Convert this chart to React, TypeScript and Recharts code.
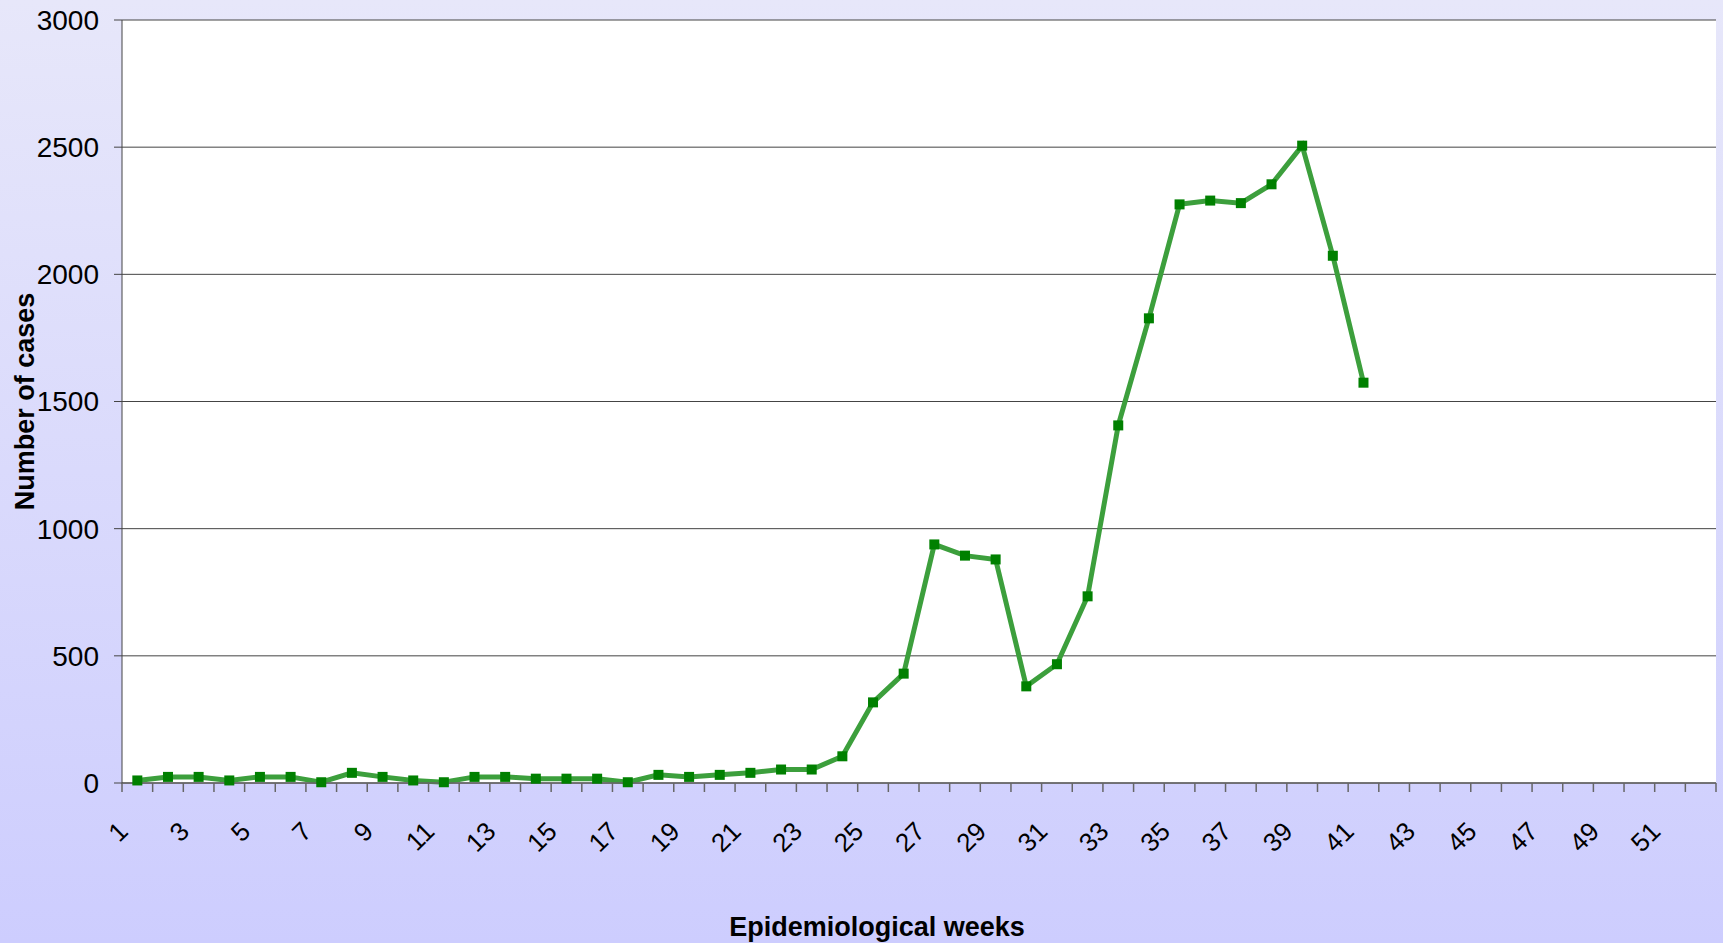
import React from 'react'
import { LineChart, Line, XAxis, YAxis, CartesianGrid, Label } from 'recharts'

// weekly case counts, weeks 1..41 reported so far
const weeks = [
  1, 2, 3, 4, 5, 6, 7, 8, 9, 10, 11, 12, 13, 14, 15, 16, 17, 18, 19, 20, 21, 22, 23, 24, 25, 26,
  27, 28, 29, 30, 31, 32, 33, 34, 35, 36, 37, 38, 39, 40, 41, 42, 43, 44, 45, 46, 47, 48, 49, 50,
  51, 52,
]
const cases = [
  10, 24, 24, 10, 24, 24, 3, 40, 24, 10, 3, 24, 24, 17, 17, 17, 3, 32, 24, 32, 40, 53, 53, 105,
  317, 430, 938, 894, 879, 380, 467, 734, 1406, 1827, 2275, 2290, 2280, 2354, 2506, 2073, 1574,
]
const yTicks = [0, 500, 1000, 1500, 2000, 2500, 3000]

const data = weeks.map((week, i) => ({ week, cases: cases[i] }))
// tick marks sit between weeks, like a category axis
const boundaries = [...weeks.map((w) => w - 0.5), weeks[weeks.length - 1] + 0.5]

const FONT = '"Liberation Sans", Arial, sans-serif'
const HALF_BAND = 1594 / 52 / 2

function WeekTick({ x, y, payload }: any) {
  const week = payload.value + 0.5
  if (week > 52 || week % 2 === 0) return <g />
  return (
    <g transform={`translate(${x + HALF_BAND - 21},${y + 28})`}>
      <text
        transform="rotate(-45)"
        textAnchor="end"
        dy="0.71em"
        fontSize={26}
        fontFamily={FONT}
        fill="#000"
      >
        {week}
      </text>
    </g>
  )
}

function SquareDot({ cx, cy, value }: any) {
  if (value == null || cx == null || cy == null) return null
  return <rect x={cx - 5} y={cy - 5} width={10} height={10} fill="#008000" />
}

function YTitle({ viewBox }: any) {
  const cx = viewBox.x + 24
  const cy = viewBox.y + viewBox.height / 2
  return (
    <text
      x={cx}
      y={cy}
      transform={`rotate(-90, ${cx}, ${cy})`}
      textAnchor="middle"
      dy="0.355em"
      fontSize={27}
      fontWeight="bold"
      fontFamily={FONT}
      fill="#000"
    >
      Number of cases
    </text>
  )
}

export default function App() {
  return (
    <div
      style={{
        width: 1723,
        height: 943,
        background: 'linear-gradient(#E7E7FA, #CDCDFE)',
        position: 'absolute',
        left: 0,
        top: 0,
      }}
    >
      <LineChart
        width={1723}
        height={943}
        data={data}
        margin={{ top: 20, right: 7, bottom: 0, left: 0 }}
      >
        <CartesianGrid vertical={false} stroke="#444" fill="#fff" />
        <XAxis
          type="number"
          dataKey="week"
          domain={[0.5, 52.5]}
          ticks={boundaries}
          interval={0}
          height={160}
          tickSize={9}
          tickMargin={0}
          stroke="#666"
          strokeWidth={1.5}
          tick={<WeekTick />}
        >
          <Label
            value="Epidemiological weeks"
            position="insideBottom"
            offset={7}
            dx={-42}
            style={{ fontSize: 27, fontWeight: 'bold', fontFamily: FONT, fill: '#000' }}
          />
        </XAxis>
        <YAxis
          domain={[0, 3000]}
          ticks={yTicks}
          interval={0}
          width={122}
          tickSize={8}
          tickMargin={15}
          stroke="#444"
          tick={{ fontSize: 28, fontFamily: FONT, fill: '#000' }}
        >
          <Label content={<YTitle />} />
        </YAxis>
        <Line
          dataKey="cases"
          stroke="#3C9F3C"
          strokeWidth={5}
          dot={<SquareDot />}
          activeDot={false}
          isAnimationActive={false}
        />
      </LineChart>
    </div>
  )
}
